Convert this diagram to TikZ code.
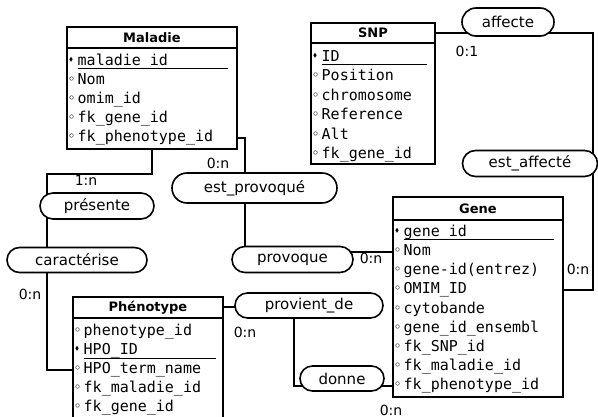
\documentclass[tikz,border=0pt]{standalone}
\usepackage{amsmath,amssymb}
\usepackage{graphicx}
\usepackage{fontspec}
\setmainfont{DejaVu Sans}
\setsansfont{DejaVu Sans}
\setmonofont{DejaVu Sans Mono}
\usepackage{tikz}
\usetikzlibrary{positioning,shapes.misc}

\pgfdeclarelayer{background}
\pgfsetlayers{background,main}

\newcommand{\pkmark}{\makebox[8.5pt][l]{\raisebox{4pt}{\scalebox{.4}{$\blacklozenge$}}}}
\newcommand{\attmark}{\makebox[8.5pt][l]{\raisebox{3pt}{\scalebox{.7}{$\circ$}}}}

\tikzset{
  ent/.style={draw, line width=1.3pt, fill=white, inner sep=0pt},
  enttitle/.style={draw, line width=1.3pt, fill=white, inner sep=0pt, font=\fontsize{13}{15}\selectfont\bfseries},
  attr/.style={anchor=west, inner sep=0pt, text height=11pt, text depth=4pt, font=\fontsize{15}{18}\selectfont\ttfamily},
  rel/.style={draw, rounded rectangle, line width=1.6pt, fill=white, minimum height=26pt, inner sep=0pt, font=\fontsize{15}{18}\selectfont},
  card/.style={inner sep=0pt, font=\fontsize{14}{16}\selectfont},
  link/.style={line width=2pt},
  keyline/.style={line width=1pt}
}

\begin{document}
\begin{tikzpicture}[x=1pt, y=-1pt]

\useasboundingbox (0,0) rectangle (598,417);

\node[ent, minimum width=170, minimum height=122] (maladiebox) at (152,88) {};
\node[enttitle, minimum width=170, minimum height=21, below=0pt of maladiebox.north] (maladie) {Maladie};
\node[attr] (m1) at (69,62) {\pkmark maladie\_id};
\node[attr] (m2) at (69,81) {\attmark Nom};
\node[attr] (m3) at (69,100) {\attmark omim\_id};
\node[attr] (m4) at (69,119) {\attmark fk\_gene\_id};
\node[attr] (m5) at (69,138) {\attmark fk\_phenotype\_id};
\draw[keyline] ([xshift=8.5pt, yshift=-3.5pt]m1.base west) -- ++(150,0);

\node[ent, minimum width=124, minimum height=141] (snpbox) at (373,93.5) {};
\node[enttitle, minimum width=124, minimum height=20, below=0pt of snpbox.north] (snp) {SNP};
\node[attr] (s1) at (313,58) {\pkmark ID};
\node[attr] (s2) at (313,77.4) {\attmark Position};
\node[attr] (s3) at (313,96.8) {\attmark chromosome};
\node[attr] (s4) at (313,116.2) {\attmark Reference};
\node[attr] (s5) at (313,135.6) {\attmark Alt};
\node[attr] (s6) at (313,155) {\attmark fk\_gene\_id};
\draw[keyline] ([xshift=8.5pt, yshift=-3.5pt]s1.base west) -- ++(105,0);

\node[ent, minimum width=170, minimum height=200] (genebox) at (478,297) {};
\node[enttitle, minimum width=170, minimum height=23, below=0pt of genebox.north] (gene) {Gene};
\node[attr] (g1) at (395,233) {\pkmark gene\_id};
\node[attr] (g2) at (395,252) {\attmark Nom};
\node[attr] (g3) at (395,271) {\attmark gene-id(entrez)};
\node[attr] (g4) at (395,290) {\attmark OMIM\_ID};
\node[attr] (g5) at (395,310) {\attmark cytobande};
\node[attr] (g6) at (395,329) {\attmark gene\_id\_ensembl};
\node[attr] (g7) at (395,348) {\attmark fk\_SNP\_id};
\node[attr] (g8) at (395,367) {\attmark fk\_maladie\_id};
\node[attr] (g9) at (395,386) {\attmark fk\_phenotype\_id};
\draw[keyline] ([xshift=8.5pt, yshift=-3.5pt]g1.base west) -- ++(150,0);

\node[ent, minimum width=150, minimum height=140] (phbox) at (148,367) {};
\node[enttitle, minimum width=150, minimum height=21, below=0pt of phbox.north] (phenotype) {Phénotype};
\node[attr] (p1) at (75,332) {\attmark phenotype\_id};
\node[attr] (p2) at (75,351) {\pkmark HPO\_ID};
\node[attr] (p3) at (75,370) {\attmark HPO\_term\_name};
\node[attr] (p4) at (75,389) {\attmark fk\_maladie\_id};
\node[attr] (p5) at (75,408) {\attmark fk\_gene\_id};
\draw[keyline] ([xshift=8.5pt, yshift=-3.5pt]p2.base west) -- ++(132,0);

\node[rel, minimum width=92, minimum height=28] (affecte) at (508,22) {affecte};
\node[rel, minimum width=135] (estaffecte) at (530,163.5) {est\_affecté};
\node[rel, minimum width=165, minimum height=30] (estprovoque) at (254.5,188) {est\_provoqué};
\node[rel, minimum width=121] (provoque) at (292.5,259.5) {provoque};
\node[rel, minimum width=114] (presente) at (97,206) {présente};
\node[rel, minimum width=140, minimum height=25] (caracterise) at (77,260) {caractérise};
\node[rel, minimum width=148, minimum height=25] (provientde) at (309,305.5) {provient\_de};
\node[rel, minimum width=84, minimum height=25] (donne) at (342,378.5) {donne};

\node[card] (c1) at (467,51) {0:1};
\node[card] (c2) at (578,269) {0:n};
\node[card] (c3) at (218,163) {0:n};
\node[card] (c4) at (371,258) {0:n};
\node[card] (c5) at (86,180) {1:n};
\node[card] (c6) at (30,294) {0:n};
\node[card] (c7) at (245,332) {0:n};
\node[card] (c8) at (391,410) {0:n};

\coordinate (snpturn) at (593,33);
\coordinate (provturn) at (245,138);
\coordinate (presturn) at (47,174);
\coordinate (donneturn) at (294,386);

\begin{pgfonlayer}{background}
\draw[link] (snp.east) -- (snpturn) -- (snpturn |- g4) -- (genebox.east |- g4);
\draw[link] (maladiebox.east |- m5) -- (provturn) -- (provturn |- provoque);
\draw[link] (genebox.west |- g2) -- (provoque |- g2);
\draw[link] (maladiebox.south) |- (presturn) -- (presturn |- p3) -- (phbox.west |- p3);
\draw[link] (phenotype.east) -- (phenotype.east -| provientde);
\draw[link] (genebox.west |- g9) -- (donneturn) -- (donneturn |- provientde);
\end{pgfonlayer}

\end{tikzpicture}
\end{document}
